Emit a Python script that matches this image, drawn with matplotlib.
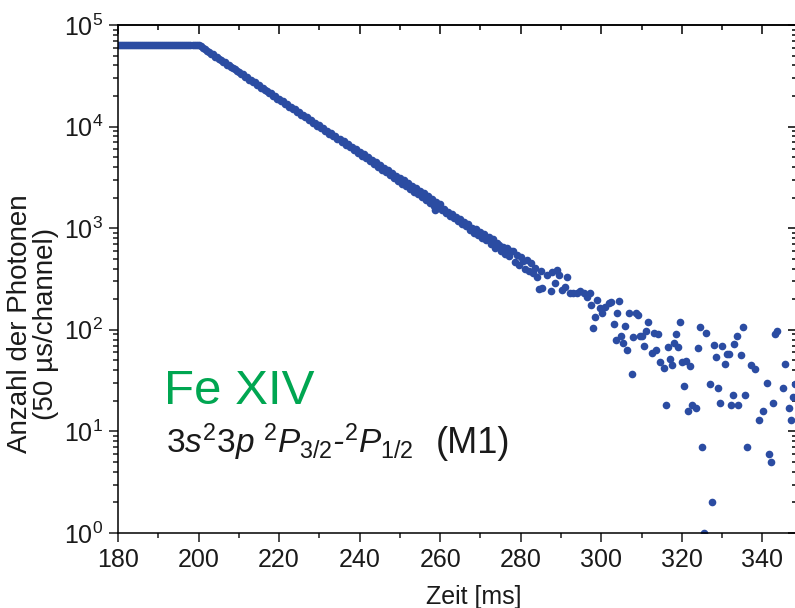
import numpy as np
import matplotlib
matplotlib.use("Agg")
import matplotlib.pyplot as plt
from matplotlib.ticker import MultipleLocator, LogLocator, NullFormatter

plt.rcParams['font.family'] = ['Liberation Sans', 'DejaVu Sans']
plt.rcParams['mathtext.fontset'] = 'custom'
plt.rcParams['mathtext.rm'] = 'Liberation Sans'
plt.rcParams['mathtext.it'] = 'Liberation Sans:italic'

#%% data (time in ms, counts per channel)
t_flat = [180, 180.5, 181, 181.5, 182, 182.5, 183, 183.5, 184, 184.5,
          185, 185.5, 186, 186.5, 187, 187.5, 188, 188.5, 189, 189.5,
          190, 190.5, 191, 191.5, 192, 192.5, 193, 193.5, 194, 194.5,
          195, 195.5, 196, 196.5, 197, 197.5, 198, 198.5, 199, 199.5]
n_flat = [63400, 63600, 63300, 63500, 63700, 63400, 63500, 63600, 63300, 63500,
          63600, 63400, 63500, 63700, 63400, 63500, 63600, 63400, 63500, 63300,
          63500, 63600, 63400, 63500, 63300, 63600, 63500, 63400, 63600, 63500,
          63400, 63600, 63500, 63300, 63500, 63600, 63400, 63500, 63400, 63300]

t_decay = [200, 200.5, 201, 201.5, 202, 202.5, 203, 203.5, 204, 204.5,
           205, 205.5, 206, 206.5, 207, 207.5, 208, 208.5, 209, 209.5,
           210, 210.5, 211, 211.5, 212, 212.5, 213, 213.5, 214, 214.5,
           215, 215.5, 216, 216.5, 217, 217.5, 218, 218.5, 219, 219.5,
           220, 220.5, 221, 221.5, 222, 222.5, 223, 223.5, 224, 224.5,
           225, 225.5, 226, 226.5, 227, 227.5, 228, 228.5, 229, 229.5,
           230, 230.5, 231, 231.5, 232, 232.5, 233, 233.5, 234, 234.5,
           235, 235.5, 236, 236.5, 237, 237.5, 238, 238.5, 239, 239.5,
           240, 240.5, 241, 241.5, 242, 242.5, 243, 243.5, 244, 244.5,
           245, 245.5, 246, 246.5, 247, 247.5, 248, 248.5, 249, 249.5,
           250, 250.5, 251, 251.5, 252, 252.5, 253, 253.5, 254, 254.5,
           255, 255.5, 256, 256.5, 257, 257.5, 258, 258.5, 259, 259.5, 260]
n_decay = [63000, 61500, 59000, 57900, 55300, 54600, 52100, 51400, 48900, 48300,
           46000, 45500, 43200, 42900, 40700, 40300, 38200, 37900, 36800, 34900,
           34700, 32800, 32600, 30900, 30700, 29000, 28900, 27300, 27200, 25700,
           25500, 24200, 24000, 22700, 22600, 21400, 21300, 20100, 20000, 18900,
           18900, 17800, 17700, 16700, 16700, 15700, 15700, 14800, 14800, 13900,
           13900, 13100, 13100, 12300, 12300, 11600, 11600, 10900, 10900, 10200,
           10300, 9600, 9700, 9050, 9100, 8500, 8600, 8000, 8100, 7500,
           7600, 7050, 7150, 6650, 6750, 6250, 6350, 5850, 5990, 5520,
           5650, 5180, 5320, 4880, 5010, 4560, 4720, 4290, 4450, 4020,
           4200, 3780, 3950, 3560, 3720, 3320, 3520, 3120, 3300, 2940,
           3120, 2750, 2960, 2600, 2790, 2430, 2620, 2290, 2470, 2150,
           2330, 2010, 2200, 1900, 2080, 1790, 1960, 1660, 1830, 1580, 1720]

t_mid = [258.6, 260.5, 261, 261.5, 262, 262.5, 263, 263.5, 264, 264.5, 265, 265.5, 266,
         266.5, 267, 267.5, 268, 268.5, 269, 269.5, 270, 270.5, 271, 271.5, 272,
         272.5, 273, 273.5, 274, 274.5, 275, 275.5, 276, 276.5, 277, 277.5, 278,
         278.5, 279, 279.5, 280, 280.5, 281, 281.5, 282, 282.5, 283, 283.5, 284,
         284.5, 285]
n_mid = [1500, 1520, 1540, 1420, 1450, 1330, 1390, 1250, 1300, 1170, 1220, 1100, 1150,
         1040, 1100, 960, 1010, 900, 980, 850, 920, 800, 870, 760, 810,
         700, 790, 640, 720, 690, 600, 660, 560, 640, 530, 590, 600,
         470, 540, 430, 520, 480, 400, 490, 380, 450, 363, 410, 330,
         250, 380]

t_tail = [285.4, 286.6, 287.5, 287.7, 288.5, 288.9, 289.5, 290.2, 291.0, 291.6, 292.2,
          293.1, 293.9, 294.7, 295.6, 296.4, 297.1, 297.5, 298.0, 298.5, 299.0, 299.7,
          300.1, 301.0, 301.8, 302.4, 303.1, 303.7, 304.0, 304.5, 305.0, 305.5, 306.0,
          306.5, 307.0, 307.6, 308.0, 308.7, 309.1, 309.7, 310.1, 310.6, 311.2, 311.5,
          312.7, 313.1, 313.7, 314.1, 314.5, 315.5, 316.1, 316.5, 317.1, 317.6, 318.0,
          318.6, 319.0, 319.6, 320.0, 320.6, 321.0, 321.5, 322.1, 322.5, 323.6, 324.0,
          324.6, 325.1, 325.5, 326.0, 327.1, 327.6, 328.0, 328.6, 329.1, 329.6, 330.1,
          330.6, 331.1, 331.6, 332.1, 332.6, 333.0, 333.6, 334.0, 334.6, 335.1, 335.6,
          336.1, 337.1, 338.1, 339.1, 340.1, 341.1, 341.6, 342.1, 342.6, 343.1, 343.6,
          345.1, 345.6, 346.6, 347.1, 347.6, 348.2]
n_tail = [256, 345, 243, 372, 286, 386, 345, 245, 265, 331, 229,
          232, 229, 243, 229, 212, 229, 176, 104, 133, 197, 163,
          146, 169, 185, 189, 115, 80, 148, 192, 86, 74, 108,
          63, 148, 37, 85, 148, 141, 86, 87, 69, 98, 120,
          59, 93, 63, 91, 48, 42, 18, 68, 52, 45, 74,
          91, 68, 120, 48, 28, 49, 16, 44, 18, 17, 66,
          106, 7, 1, 94, 29, 2, 71, 54, 27, 19, 70,
          46, 58, 58, 18, 23, 72, 87, 18, 56, 107, 23,
          7, 45, 41, 13, 16, 30, 6, 5, 19, 91, 98,
          27, 46, 17, 13, 22, 29]

t_all = np.concatenate([t_flat, t_decay, t_mid, t_tail])
n_all = np.concatenate([n_flat, n_decay, n_mid, n_tail])

#%% figure
fig = plt.figure(figsize=(7.95, 6.08), dpi=100)
W, H = 795.0, 608.0
ax = fig.add_axes([118/W, 1-533/H, (797-118)/W, (533-25)/H])

dot = '#2b4ca2'
ax.plot(t_all, n_all, 'o', color=dot, ms=5.5, mew=0)

ax.set_yscale('log')
ax.set_xlim(180, 348.6)
ax.set_ylim(1, 1e5)

ax.xaxis.set_major_locator(MultipleLocator(20))
ax.xaxis.set_minor_locator(MultipleLocator(10))
ax.yaxis.set_major_locator(LogLocator(base=10, numticks=10))
ax.yaxis.set_minor_locator(LogLocator(base=10, subs=np.arange(2, 10), numticks=10))
ax.yaxis.set_minor_formatter(NullFormatter())

for s in ax.spines.values():
    s.set_linewidth(1.1)
ax.tick_params(which='both', direction='out', width=1.1, labelsize=18, colors='#1a1a1a')
ax.tick_params(which='major', length=6.5, pad=4)
ax.tick_params(which='minor', length=3.5)

# top/right axes with ticks pointing inside
secx = ax.secondary_xaxis('top')
secx.xaxis.set_major_locator(MultipleLocator(20))
secx.xaxis.set_minor_locator(MultipleLocator(10))
secx.tick_params(which='both', direction='in', width=1.1, labeltop=False)
secx.tick_params(which='major', length=6.5)
secx.tick_params(which='minor', length=3.5)
secx.spines['top'].set_linewidth(1.1)

secy = ax.secondary_yaxis('right')
secy.yaxis.set_major_locator(LogLocator(base=10, numticks=10))
secy.yaxis.set_minor_locator(LogLocator(base=10, subs=np.arange(2, 10), numticks=10))
secy.tick_params(which='both', direction='in', width=1.1, labelright=False)
secy.tick_params(which='major', length=6.5)
secy.tick_params(which='minor', length=3.5)

fig.text(474/W, 1-597/H, 'Zeit [ms]', fontsize=18, ha='center', va='center', color='#1a1a1a')
fig.text(33/W, 1-324/H, 'Anzahl der Photonen\n(50 \u00b5s/channel)', fontsize=20,
         rotation=90, ha='center', va='center', multialignment='center',
         linespacing=1.0, color='#1a1a1a')

fig.text(164/W, 1-404/H, 'Fe XIV', fontsize=35.5, color='#00a651', ha='left', va='baseline')
fig.text(166/W, 1-453/H,
         r'$\mathit{3s}^{\mathit{2}}\mathit{3p}\ ^{\mathit{2}}\mathit{P}_{\mathit{3/2}}$-$^{\mathit{2}}\mathit{P}_{\mathit{1/2}}$',
         fontsize=24, fontstyle='italic', color='#1a1a1a', ha='left', va='baseline')
fig.text(436/W, 1-453/H, '(M1)', fontsize=26, color='#1a1a1a', ha='left', va='baseline')

fig.savefig('out.png', dpi=100)
